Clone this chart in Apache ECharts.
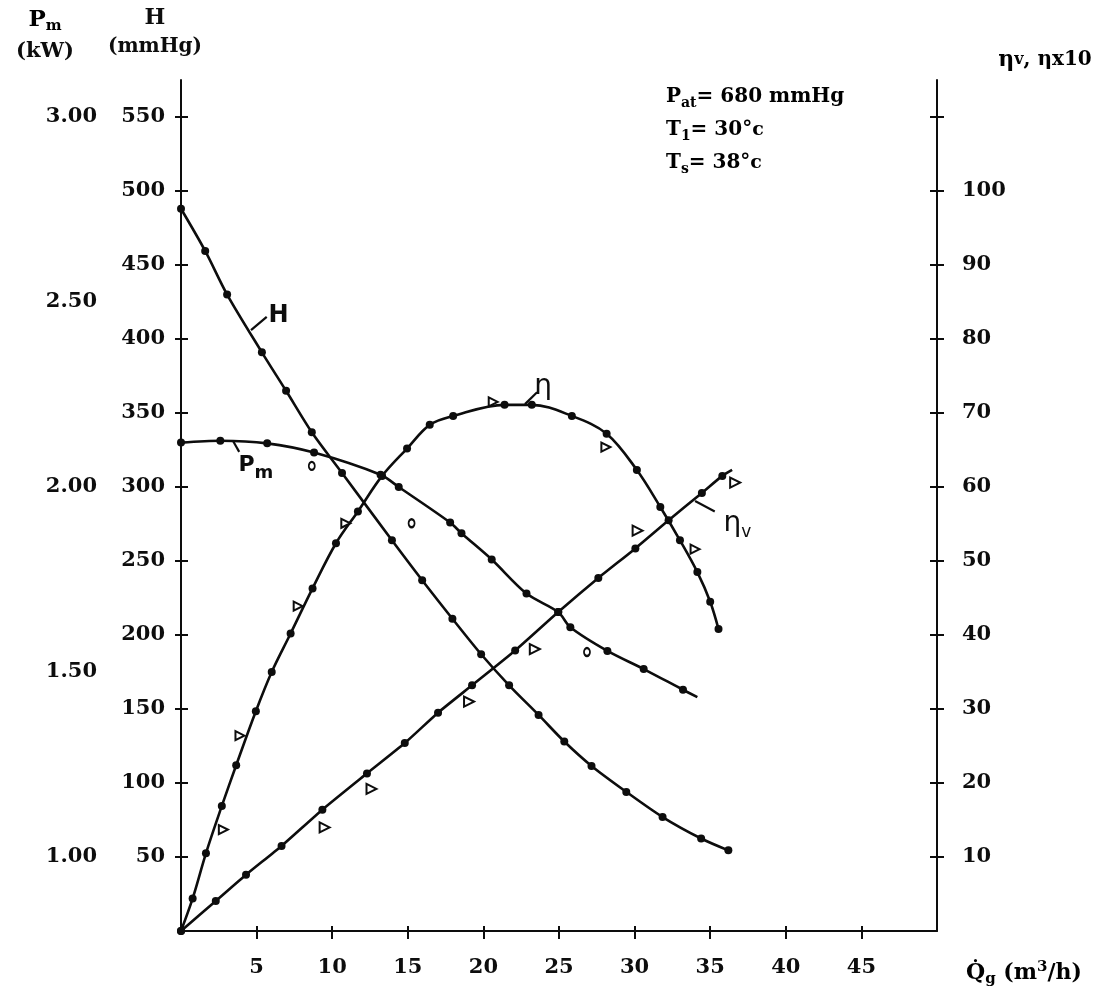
<!DOCTYPE html>
<html>
<head>
<meta charset="utf-8">
<script src="https://cdn.jsdelivr.net/npm/echarts@6/dist/echarts.min.js"></script>
<style>html,body{margin:0;padding:0;background:#fff}#c{width:1117px;height:994px}</style>
</head>
<body>
<div id="c"></div>
<script>
// ---- data ----
const xTicks = [5, 10, 15, 20, 25, 30, 35, 40, 45];
const hTicks = [50, 100, 150, 200, 250, 300, 350, 400, 450, 500, 550];
const pmTicks = [1.0, 1.5, 2.0, 2.5, 3.0];
const etaTicks = [10, 20, 30, 40, 50, 60, 70, 80, 90, 100, 110];
const etaLabels = [10, 20, 30, 40, 50, 60, 70, 80, 90, 100];

// H (mmHg) vs Qg
const hData = [[0,488],[1.6,459.5],[3.05,430],[5.35,391],[6.95,365],[8.65,337],[10.65,309.5],[13.95,264],[15.95,237],[17.95,211],[19.85,187],[21.7,166],[23.65,146],[25.35,128],[27.15,111.5],[29.45,94],[31.85,77],[34.4,62.5],[36.2,54.5]];
// Pm (kW) vs Qg
const pmData = [[0,2.12],[2.6,2.125],[5.7,2.118],[8.8,2.093],[13.2,2.033],[14.4,2.0],[17.8,1.904],[18.55,1.875],[20.55,1.804],[22.85,1.712],[24.95,1.662],[25.75,1.621],[28.2,1.557],[30.6,1.508],[33.2,1.452]];
const pmEnd = [34.15, 1.432];
const pmOpen = [[8.65,2.057],[15.25,1.902],[26.85,1.554]];
// eta x10 vs Qg
const etaData = [[0,0],[0.77,4.4],[1.65,10.5],[2.7,16.9],[3.65,22.4],[4.95,29.7],[6.0,35.0],[7.25,40.2],[8.7,46.3],[10.25,52.4],[11.7,56.7],[13.3,61.5],[14.95,65.2],[16.45,68.4],[18.0,69.6],[21.4,71.1],[23.2,71.1],[25.85,69.6],[28.15,67.2],[30.15,62.3],[31.7,57.3],[33.0,52.8],[34.15,48.5],[35.0,44.5],[35.55,40.8]];
const etaOpen = [[2.8,13.7],[3.9,26.4],[7.75,43.9],[10.9,55.1],[20.65,71.5],[28.1,65.4],[34.0,51.6]];
// eta_v vs Qg
const etavData = [[0,0],[2.3,4.05],[4.3,7.6],[6.65,11.5],[9.35,16.4],[12.3,21.3],[14.8,25.4],[17.0,29.5],[19.25,33.2],[22.1,37.9],[24.95,43.1],[27.6,47.7],[30.05,51.7],[32.25,55.5],[34.45,59.2],[35.8,61.5]];
const etavEnd = [36.45, 62.3];
const etavOpen = [[9.5,14.0],[12.6,19.2],[19.05,31.0],[23.4,38.1],[30.2,54.1],[36.65,60.6]];

// curve labels (data coords) and their leader strokes
const hLabel = [6.45, 416];
const hLeader = [[4.63,406],[5.67,415]];
const pmLabel = [4.95, 2.06];
const pmLeader = [[3.46,2.123],[3.85,2.095]];
const etaLabel = [23.95, 73.6];
const etaLeader = [[22.75,71.2],[23.55,72.8]];
const etavLabel = [36.8, 55.0];
const etavLeader = [[34.0,58.1],[35.3,56.7]];

const FF = "'DejaVu Serif','Liberation Serif',serif";
const HAND = "'DejaVu Sans',sans-serif";
const INK = '#0d0d0d';
const W = 'bold';

const chart = echarts.init(document.getElementById('c'), null, {renderer:'canvas'});

const lab = {color: INK, fontFamily: FF, fontSize: 21, fontWeight: W};
const tickStyle = {color: INK, width: 2};
const hidden = {color:'rgba(0,0,0,0)', opacity:1};

const option = {
  animation: false,
  backgroundColor: '#ffffff',
  grid: {left: 181, right: 180, top: 80, bottom: 63},
  xAxis: [
    {type:'value', min:0, max:50, interval:5, position:'bottom',
     axisLine:{onZero:false, lineStyle:{color:INK, width:2}},
     axisTick:{show:true, length:8, lineStyle:tickStyle, customValues:xTicks},
     axisLabel:Object.assign({customValues:xTicks, margin:26}, lab),
     splitLine:{show:false}},
    {type:'value', min:0, max:50, interval:5, position:'bottom',
     axisLine:{show:false, onZero:false},
     axisTick:{show:true, inside:true, length:5, lineStyle:tickStyle, customValues:xTicks},
     axisLabel:{show:false}, splitLine:{show:false}}
  ],
  yAxis: [
    {type:'value', min:0, max:575, interval:50, position:'left',
     axisLine:{show:true, lineStyle:{color:INK, width:2}},
     axisTick:{show:true, length:6, lineStyle:tickStyle, customValues:hTicks},
     axisLabel:Object.assign({customValues:hTicks, margin:16}, lab),
     splitLine:{show:false}},
    {type:'value', min:0, max:575, interval:50, position:'left',
     axisLine:{show:false},
     axisTick:{show:true, inside:true, length:7, lineStyle:tickStyle, customValues:hTicks},
     axisLabel:{show:false}, splitLine:{show:false}},
    {type:'value', min:0.8, max:3.1, interval:0.5, position:'left', offset:76,
     axisLine:{show:false}, axisTick:{show:false},
     axisLabel:Object.assign({customValues:pmTicks, margin:8, formatter:v=>Number(v).toFixed(2)}, lab),
     splitLine:{show:false}},
    {type:'value', min:0, max:115, interval:10, position:'right',
     axisLine:{show:true, lineStyle:{color:INK, width:2}},
     axisTick:{show:true, length:7, lineStyle:tickStyle, customValues:etaTicks},
     axisLabel:Object.assign({customValues:etaLabels, margin:25}, lab),
     splitLine:{show:false}},
    {type:'value', min:0, max:115, interval:10, position:'right',
     axisLine:{show:false},
     axisTick:{show:true, inside:true, length:7, lineStyle:tickStyle, customValues:etaTicks},
     axisLabel:{show:false}, splitLine:{show:false}}
  ],
  series: [
    {name:'H', type:'line', xAxisIndex:0, yAxisIndex:0, data:hData, smooth:0.3,
     symbol:'circle', symbolSize:8, lineStyle:{color:INK, width:2.6}, itemStyle:{color:INK}, z:5},
    {name:'Pm', type:'line', xAxisIndex:0, yAxisIndex:2,
     data:pmData.concat([{value:pmEnd, symbol:'none'}]), smooth:0.3,
     symbol:'circle', symbolSize:8, lineStyle:{color:INK, width:2.6}, itemStyle:{color:INK}, z:5},
    {name:'eta', type:'line', xAxisIndex:0, yAxisIndex:3, data:etaData, smooth:0.35,
     symbol:'circle', symbolSize:8, lineStyle:{color:INK, width:2.6}, itemStyle:{color:INK}, z:5},
    {name:'etav', type:'line', xAxisIndex:0, yAxisIndex:3,
     data:etavData.concat([{value:etavEnd, symbol:'none'}]), smooth:0.2,
     symbol:'circle', symbolSize:8, lineStyle:{color:INK, width:2.6}, itemStyle:{color:INK}, z:5},
    {name:'Pm open', type:'scatter', xAxisIndex:0, yAxisIndex:2, data:pmOpen,
     symbol:'emptyCircle', symbolSize:[6,8], itemStyle:{color:INK, borderColor:INK, borderWidth:2, opacity:1}, z:6},
    {name:'eta open', type:'scatter', xAxisIndex:0, yAxisIndex:3, data:etaOpen,
     symbol:'emptyTriangle', symbolRotate:-90, symbolSize:9, itemStyle:{color:INK, borderColor:INK, borderWidth:2.2, opacity:1}, z:6},
    {name:'etav open', type:'scatter', xAxisIndex:0, yAxisIndex:3, data:etavOpen,
     symbol:'emptyTriangle', symbolRotate:-90, symbolSize:10, itemStyle:{color:INK, borderColor:INK, borderWidth:2.2, opacity:1}, z:6},
    // curve labels
    {name:'labels H', type:'scatter', xAxisIndex:0, yAxisIndex:0, symbol:'circle', symbolSize:2, itemStyle:hidden, z:7,
     data:[{value:hLabel}],
     label:{show:true, position:'inside', formatter:'H', fontFamily:HAND, fontWeight:'bold', fontSize:24, color:INK, opacity:1},
     markLine:{silent:true, symbol:['none','none'], label:{show:false}, lineStyle:{color:INK, width:2.2, type:'solid', opacity:1},
       data:[[{coord:hLeader[0]},{coord:hLeader[1]}]]}},
    {name:'labels Pm', type:'scatter', xAxisIndex:0, yAxisIndex:2, symbol:'circle', symbolSize:2, itemStyle:hidden, z:7,
     data:[{value:pmLabel}],
     label:{show:true, position:'inside', formatter:'{a|P}{b|m}', opacity:1,
        rich:{a:{fontFamily:HAND, fontWeight:'bold', fontSize:22, color:INK},
              b:{fontFamily:HAND, fontWeight:'bold', fontSize:18, color:INK, padding:[18,0,0,0]}}},
     markLine:{silent:true, symbol:['none','none'], label:{show:false}, lineStyle:{color:INK, width:2.2, type:'solid', opacity:1},
       data:[[{coord:pmLeader[0]},{coord:pmLeader[1]}]]}},
    {name:'labels eta', type:'scatter', xAxisIndex:0, yAxisIndex:3, symbol:'circle', symbolSize:2, itemStyle:hidden, z:7,
     data:[
       {value:etaLabel, label:{show:true, position:'inside', formatter:'η', fontFamily:HAND, fontSize:28, color:INK, opacity:1}},
       {value:etavLabel, label:{show:true, position:'inside', formatter:'{a|η}{b|v}', opacity:1,
          rich:{a:{fontFamily:HAND, fontSize:28, color:INK},
                b:{fontFamily:HAND, fontSize:17, color:INK, padding:[18,0,0,0]}}}}
     ],
     markLine:{silent:true, symbol:['none','none'], label:{show:false}, lineStyle:{color:INK, width:2.2, type:'solid', opacity:1},
       data:[[{coord:etaLeader[0]},{coord:etaLeader[1]}],[{coord:etavLeader[0]},{coord:etavLeader[1]}]]}}
  ],
  graphic: [
    {type:'text', x:45, y:20, style:{text:'{a|P}{b|m}', textAlign:'center', textVerticalAlign:'middle',
      rich:{a:{fontFamily:FF, fontWeight:W, fontSize:23, color:INK}, b:{fontFamily:FF, fontWeight:W, fontSize:15, color:INK, padding:[12,0,0,0]}}}},
    {type:'text', x:45, y:52, style:{text:'(kW)', font:"bold 21px "+FF, fill:INK, textAlign:'center', textVerticalAlign:'middle'}},
    {type:'text', x:155, y:18, style:{text:'H', font:"bold 22px "+FF, fill:INK, textAlign:'center', textVerticalAlign:'middle'}},
    {type:'text', x:155, y:47, style:{text:'(mmHg)', font:"bold 20px "+FF, fill:INK, textAlign:'center', textVerticalAlign:'middle'}},
    {type:'text', x:1045, y:60, style:{text:'{a|η}{b|v}{c|, ηx10}', textAlign:'center', textVerticalAlign:'middle',
      rich:{a:{fontFamily:FF, fontWeight:W, fontSize:22, color:INK}, b:{fontFamily:FF, fontWeight:W, fontSize:16, color:INK}, c:{fontFamily:FF, fontWeight:W, fontSize:20, color:INK}}}},
    {type:'text', x:666, y:97, style:{text:'{a|P}{b|at}{a|= 680 mmHg}', textAlign:'left', textVerticalAlign:'middle',
      rich:{a:{fontFamily:FF, fontWeight:W, fontSize:20, color:INK}, b:{fontFamily:FF, fontWeight:W, fontSize:14, color:INK, padding:[12,0,0,0]}}}},
    {type:'text', x:666, y:130, style:{text:'{a|T}{b|1}{a|= 30°}{c|c}', textAlign:'left', textVerticalAlign:'middle',
      rich:{a:{fontFamily:FF, fontWeight:W, fontSize:20, color:INK}, b:{fontFamily:FF, fontWeight:W, fontSize:14, color:INK, padding:[12,0,0,0]}, c:{fontFamily:FF, fontSize:19, fontWeight:'bold', color:INK}}}},
    {type:'text', x:666, y:163, style:{text:'{a|T}{b|s}{a|= 38°}{c|c}', textAlign:'left', textVerticalAlign:'middle',
      rich:{a:{fontFamily:FF, fontWeight:W, fontSize:20, color:INK}, b:{fontFamily:FF, fontWeight:W, fontSize:14, color:INK, padding:[12,0,0,0]}, c:{fontFamily:FF, fontSize:19, fontWeight:'bold', color:INK}}}},
    {type:'text', x:966, y:973, style:{text:'{a|Q\u0307}{b|g}{a| (m}{c|3}{a|/h)}', textAlign:'left', textVerticalAlign:'middle',
      rich:{a:{fontFamily:FF, fontWeight:W, fontSize:22, color:INK}, b:{fontFamily:FF, fontWeight:W, fontSize:15, color:INK, padding:[12,0,0,0]}, c:{fontFamily:FF, fontWeight:W, fontSize:15, color:INK, padding:[0,0,12,0]}}}}
  ]
};
chart.setOption(option);
</script>
</body>
</html>
